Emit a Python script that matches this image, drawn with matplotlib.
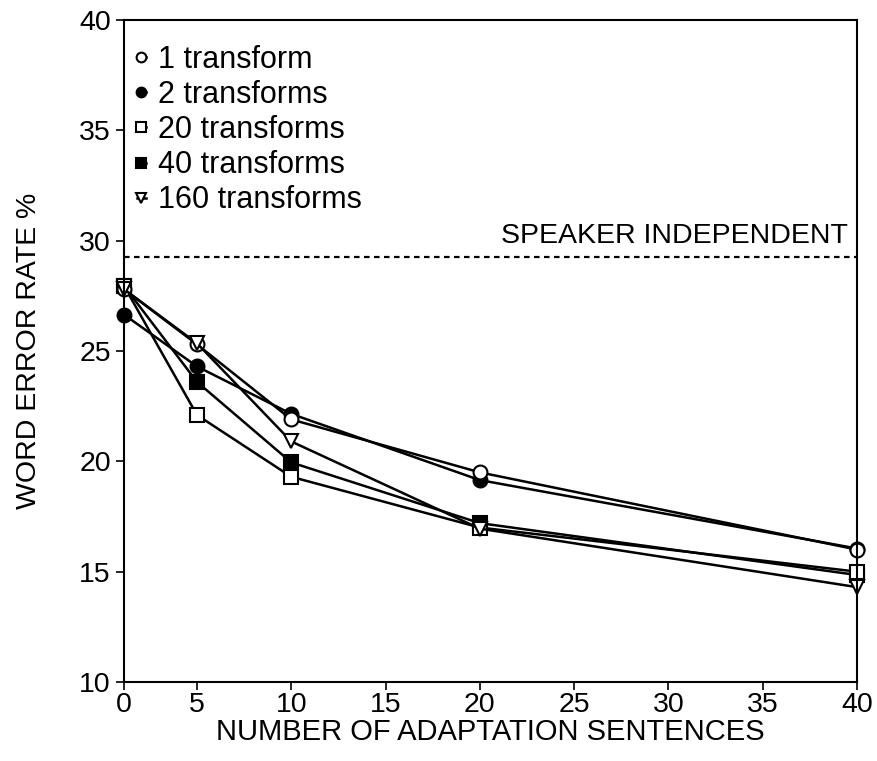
import numpy as np
import matplotlib.pyplot as plt

plt.rcParams['font.family'] = ['Liberation Sans', 'DejaVu Sans']

sentences = [0, 5, 10, 20, 40]
one_tr = [27.8, 25.3, 21.9, 19.5, 16.0]
two_tr = [26.65, 24.3, 22.15, 19.15, 16.05]
twenty_tr = [27.95, 22.1, 19.3, 17.0, 15.0]
forty_tr = [27.95, 23.6, 19.95, 17.2, 14.85]
onesixty_tr = [27.8, 25.35, 20.9, 16.95, 14.3]
speaker_indep = 29.25

# the printed x axis is a bit squeezed between 0 and 5
def fwd(x):
    x = np.asarray(x, dtype=float)
    return np.where(x < 5, x * 0.774, x - 5 + 3.87)

def inv(y):
    y = np.asarray(y, dtype=float)
    return np.where(y < 3.87, y / 0.774, y + 5 - 3.87)

fig = plt.figure(figsize=(8.77, 7.61), dpi=100)
ax = fig.add_axes([0.1414, 0.1038, 0.8358, 0.8699])
ax.set_xscale('function', functions=(fwd, inv))

kw = dict(color='black', lw=1.8, ms=10, mew=1.5, clip_on=False)
h2, = ax.plot(sentences, two_tr, marker='o', mfc='black', label='2 transforms', **kw)
h40, = ax.plot(sentences, forty_tr, marker='s', mfc='black', label='40 transforms', **kw)
h20, = ax.plot(sentences, twenty_tr, marker='s', mfc='white', label='20 transforms', **kw)
h1, = ax.plot(sentences, one_tr, marker='o', mfc='white', label='1 transform', **kw)
h160, = ax.plot(sentences, onesixty_tr, marker='v', mfc='white', label='160 transforms', **kw)

ax.axhline(speaker_indep, color='black', lw=1.6, ls=(0, (2.5, 2)))
ax.text(39.5, speaker_indep + 0.38, 'SPEAKER INDEPENDENT', ha='right', va='bottom', fontsize=20.5)

ax.set_xlim(0, 40)
ax.set_ylim(10, 40)
ax.set_xticks(np.arange(0, 41, 5))
ax.set_xticks([], minor=True)
ax.set_yticks(np.arange(10, 41, 5))
ax.tick_params(direction='out', length=6, width=1.2, labelsize=20.5, top=False, right=False)
ax.tick_params(axis='x', pad=1)
for s in ax.spines.values():
    s.set_linewidth(1.5)

ax.set_xlabel('NUMBER OF ADAPTATION SENTENCES', fontsize=21, labelpad=0)
ax.set_ylabel('WORD ERROR RATE %', fontsize=20.5, labelpad=27)

ax.legend(handles=[h1, h2, h20, h40, h160], loc='upper left', bbox_to_anchor=(-0.012, 0.995),
          frameon=False, handlelength=0.3, handletextpad=0.4, markerscale=0.7,
          fontsize=22, labelspacing=0.17, borderaxespad=0.3)

fig.savefig('out.png')
